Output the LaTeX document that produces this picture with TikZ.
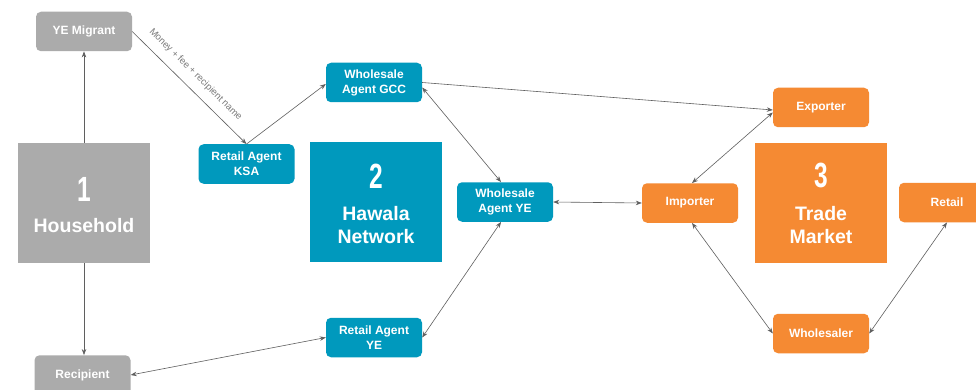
\documentclass[tikz,border=0pt]{standalone}
\usepackage{fontspec}
\setmainfont{Liberation Sans}
\usetikzlibrary{arrows.meta,calc}
\definecolor{hgray}{HTML}{ABABAB}
\definecolor{hteal}{HTML}{0099BD}
\definecolor{horange}{HTML}{F58A33}
\definecolor{hline}{HTML}{5F5F5F}
\definecolor{hlabel}{HTML}{7A7A7A}
\begin{document}
\begin{tikzpicture}[x=1pt,y=-1pt,
  smallbox/.style={rounded corners=5pt, minimum width=96pt, minimum height=39.5pt,
    inner sep=0pt, text=white, align=center,
    font=\fontsize{12}{15}\selectfont\bfseries},
  bigbox/.style={minimum width=132pt, minimum height=120pt, inner sep=0pt,
    text=white, align=center},
  graybox/.style={smallbox, fill=hgray},
  tealbox/.style={smallbox, fill=hteal},
  orangebox/.style={smallbox, fill=horange},
  conn/.style={draw=hline, line width=0.6pt, -{Stealth[length=6pt,width=4.5pt]}},
  dconn/.style={draw=hline, line width=0.6pt, {Stealth[length=6pt,width=4.5pt]}-{Stealth[length=6pt,width=4.5pt]}},
  bignum/.style={font=\fontsize{35}{35}\selectfont\bfseries},
  bigtxt/.style={font=\fontsize{19.5}{23}\selectfont\bfseries, align=center}
]
\useasboundingbox (0,0) rectangle (976,390);
\fill[white] (0,0) rectangle (976,390);

% group boxes
\node[bigbox, fill=hgray] (hh) at (84,203) {};
\node[bigbox, fill=hteal] (hw) at (376,202) {};
\node[bigbox, fill=horange] (tm) at (821,203) {};
\node[text=white, bignum] (n1) at (84,189) {\scalebox{0.7}[1]{1}};
\node[text=white, bigtxt] (t1) at (84,226) {Household};
\node[text=white, bignum] (n2) at (376,176) {\scalebox{0.7}[1]{2}};
\node[text=white, bigtxt] (t2) at (376,225) {Hawala\\Network};
\node[text=white, bignum] (n3) at (821,175) {\scalebox{0.7}[1]{3}};
\node[text=white, bigtxt] (t3) at (821,225) {Trade\\Market};

% small boxes
\node[graybox] (ym) at (84,31.5) {YE Migrant};
\node[graybox] (rc) at (82.5,375) {Recipient};
\node[tealbox] (rk) at (246.5,164) {Retail Agent\\KSA};
\node[tealbox] (wg) at (374,82.5) {Wholesale\\Agent GCC};
\node[tealbox] (wy) at (505,202) {Wholesale\\Agent YE};
\node[tealbox] (ry) at (374,337.5) {Retail Agent\\YE};
\node[orangebox] (im) at (690,203) {Importer};
\node[orangebox] (ex) at (821,107.5) {Exporter};
\node[orangebox] (rt) at (947,202.5) {Retail};
\node[orangebox] (ws) at (821,333.5) {Wholesaler};

% connectors
\draw[conn] (hh.north) -- (ym.south);
\draw[conn] (hh.south) -- (rc.north -| hh.south);
\draw[conn] (ym.east) -- (rk.north)
  node[pos=0.47, sloped, above=9pt, inner sep=0pt, text=hlabel,
       font=\fontsize{9.5}{10}\selectfont] (lbl) {Money + fee + recipient name};
\draw[conn] (rk.north) -- ([yshift=-1.5pt]wg.west);
\draw[conn] (wg.east) -- ([yshift=-2.5pt]ex.west);
\draw[dconn] ([yshift=-5pt]wg.east) -- ([xshift=-4pt]wy.north);
\draw[dconn] ([xshift=-4pt]wy.south) -- (ry.east);
\draw[dconn] (ry.west) -- (rc.east);
\draw[dconn] (wy.east) -- (im.west);
\draw[dconn] ([xshift=2pt]im.north) -- ([yshift=-5pt]ex.west);
\draw[dconn] ([xshift=2pt]im.south) -- (ws.west);
\draw[dconn] (ws.east) -- (rt.south);
\end{tikzpicture}
\end{document}
